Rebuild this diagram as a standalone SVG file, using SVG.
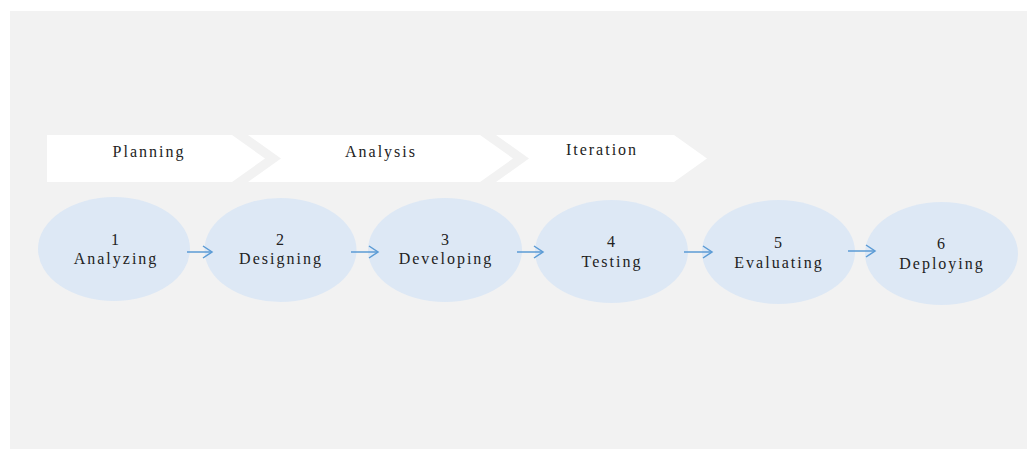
<svg xmlns="http://www.w3.org/2000/svg" width="1027" height="450" viewBox="0 0 1027 450">
<style>
.t{font-family:"Liberation Serif","DejaVu Serif",serif;font-size:16px;letter-spacing:2px;fill:#222;text-anchor:middle}
.ch{fill:#ffffff}
.el{fill:#dde8f5}
.cn{stroke:#5b9bd5;stroke-width:1.5;fill:none}
</style>
<defs>
<marker id="ah" markerWidth="12" markerHeight="14" refX="10" refY="7" orient="auto" markerUnits="userSpaceOnUse">
<path d="M1,1 L10,7 L1,13" fill="none" stroke="#5b9bd5" stroke-width="1.5"/>
</marker>
</defs>
<rect x="10" y="11" width="1017" height="438" fill="#f2f2f2"/>
<g id="phase-planning">
<polygon class="ch" points="47,135 232,135 265,158.5 232,182 47,182"/>
<text class="t" x="149" y="157">Planning</text>
</g>
<g id="phase-analysis">
<polygon class="ch" points="248,135 480,135 513,158.5 480,182 248,182 281,158.5"/>
<text class="t" x="381" y="157">Analysis</text>
</g>
<g id="phase-iteration">
<polygon class="ch" points="496,135 674,135 707,158.5 674,182 496,182 529,158.5"/>
<text class="t" x="602" y="155">Iteration</text>
</g>
<g id="step1">
<ellipse class="el" cx="114" cy="249" rx="76" ry="52"/>
<text class="t" x="116" y="245">1</text>
<text class="t" x="116" y="264">Analyzing</text>
</g>
<g id="step2">
<ellipse class="el" cx="280.5" cy="250" rx="76" ry="52"/>
<text class="t" x="281" y="245">2</text>
<text class="t" x="281" y="264">Designing</text>
</g>
<g id="step3">
<ellipse class="el" cx="445" cy="250" rx="77" ry="52"/>
<text class="t" x="446" y="245">3</text>
<text class="t" x="446" y="264">Developing</text>
</g>
<g id="step4">
<ellipse class="el" cx="611.5" cy="251.5" rx="76.5" ry="51.5"/>
<text class="t" x="612" y="247">4</text>
<text class="t" x="612" y="267">Testing</text>
</g>
<g id="step5">
<ellipse class="el" cx="778.5" cy="252" rx="76.5" ry="52"/>
<text class="t" x="779" y="248">5</text>
<text class="t" x="779" y="268">Evaluating</text>
</g>
<g id="step6">
<ellipse class="el" cx="941.5" cy="253.5" rx="76.5" ry="51.5"/>
<text class="t" x="942" y="249">6</text>
<text class="t" x="942" y="269">Deploying</text>
</g>
<g id="connectors">
<line class="cn" x1="187" y1="252" x2="212" y2="252" marker-end="url(#ah)"/>
<line class="cn" x1="351" y1="252" x2="378" y2="252" marker-end="url(#ah)"/>
<line class="cn" x1="517" y1="252" x2="543" y2="252" marker-end="url(#ah)"/>
<line class="cn" x1="684" y1="252" x2="712" y2="252" marker-end="url(#ah)"/>
<line class="cn" x1="848" y1="251" x2="875" y2="251" marker-end="url(#ah)"/>
</g>
</svg>
